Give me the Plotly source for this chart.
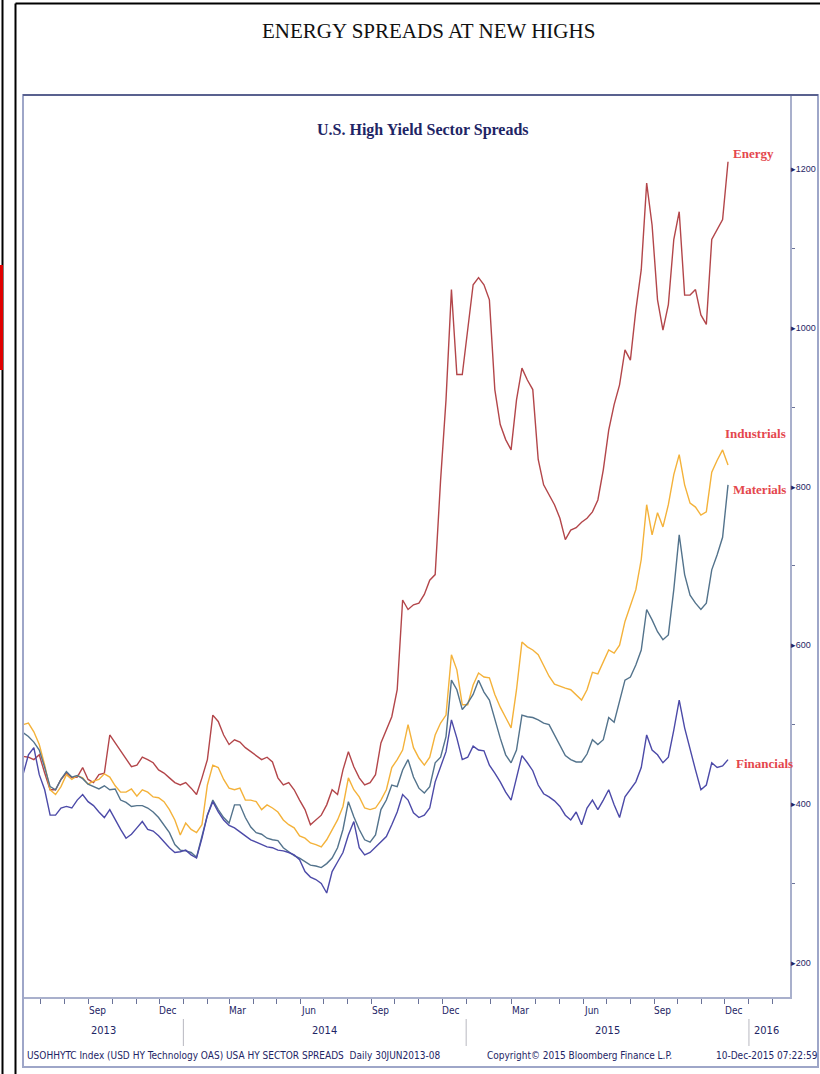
import pandas as pd
import plotly.graph_objects as go

# ---------------- data (weekly readings, bp) ----------------
dates = pd.date_range("2013-06-08", periods=131, freq="7D")

energy = [460, 459, 456, 462, 439, 418, 418, 431, 439, 433, 434, 446, 431, 427, 437, 439, 487, 477, 468, 458,
          447, 449, 459, 456, 452, 443, 439, 433, 427, 424, 427, 420, 412, 433, 456, 512, 504, 487, 475, 481,
          478, 471, 466, 462, 456, 459, 453, 433, 424, 427, 418, 405, 393, 374, 380, 386, 399, 418, 412, 443,
          466, 447, 433, 424, 427, 437, 477, 493, 510, 544, 657, 645, 651, 653, 664, 682, 689, 808, 909, 1048,
          941, 941, 997, 1054, 1063, 1054, 1035, 922, 878, 859, 846, 909, 949, 934, 922, 834, 802, 789, 777, 760,
          733, 745, 748, 755, 760, 768, 783, 821, 871, 903, 928, 972, 959, 1022, 1073, 1182, 1129, 1035, 997, 1029,
          1111, 1146, 1041, 1041, 1048, 1016, 1004, 1111, 1123, 1136, 1209]

industrials = [500, 502, 491, 475, 449, 418, 412, 422, 437, 431, 436, 433, 425, 429, 431, 438, 434, 423, 415, 415,
               419, 410, 418, 415, 409, 408, 403, 393, 380, 361, 376, 368, 364, 374, 424, 449, 446, 431, 420, 418,
               420, 405, 405, 403, 393, 399, 395, 390, 380, 374, 370, 360, 357, 351, 349, 346, 355, 368, 380, 397,
               433, 418, 409, 395, 393, 395, 405, 418, 446, 456, 468, 500, 471, 458, 449, 459, 487, 502, 512, 588,
               569, 525, 525, 550, 565, 560, 559, 538, 522, 509, 496, 544, 604, 598, 594, 588, 574, 561, 551, 548,
               546, 544, 538, 531, 544, 566, 564, 578, 594, 590, 600, 630, 651, 670, 708, 777, 739, 767, 749, 777,
               815, 840, 802, 779, 774, 764, 768, 818, 833, 846, 827]

materials = [490, 485, 478, 468, 446, 422, 418, 431, 441, 434, 436, 432, 425, 422, 419, 423, 418, 419, 405, 402,
             397, 398, 398, 395, 390, 383, 373, 364, 349, 342, 341, 339, 333, 361, 386, 405, 393, 383, 376, 399,
             399, 383, 371, 364, 362, 357, 355, 354, 345, 340, 335, 332, 327, 323, 322, 320, 325, 332, 345, 368,
             403, 384, 368, 355, 352, 361, 393, 405, 424, 422, 443, 456, 434, 420, 414, 422, 452, 459, 485, 556,
             544, 519, 527, 538, 556, 541, 531, 506, 483, 462, 452, 468, 512, 510, 509, 506, 502, 500, 487, 475,
             461, 456, 453, 453, 463, 481, 475, 481, 509, 503, 531, 556, 560, 575, 594, 645, 632, 617, 607, 613,
             670, 739, 689, 663, 653, 645, 653, 695, 714, 736, 802]

financials = [437, 462, 471, 437, 418, 386, 386, 395, 397, 395, 405, 412, 403, 398, 390, 383, 393, 380, 368, 357,
              362, 370, 378, 368, 366, 360, 352, 345, 339, 340, 342, 336, 332, 357, 386, 403, 390, 380, 373, 370,
              365, 360, 355, 352, 349, 346, 345, 342, 341, 339, 336, 330, 315, 308, 305, 300, 288, 315, 327, 339,
              361, 378, 345, 336, 339, 346, 352, 359, 374, 390, 412, 405, 389, 383, 386, 395, 428, 447, 466, 506,
              483, 456, 459, 473, 468, 467, 449, 439, 428, 415, 405, 433, 461, 452, 442, 424, 413, 409, 404, 397,
              386, 380, 390, 374, 395, 405, 393, 405, 418, 399, 383, 409, 418, 428, 446, 487, 468, 462, 452, 459,
              493, 531, 496, 468, 443, 418, 424, 452, 446, 448, 456]

series_names = ["Energy", "Industrials", "Materials", "Financials"]
series_values = [energy, industrials, materials, financials]
series_colors = ["#b3464a", "#f4b23a", "#53738c", "#4c4aa8"]

y_ticks = [200, 400, 600, 800, 1000, 1200]
y_minor = [300, 500, 700, 900, 1100]
month_labels = ["Sep", "Dec", "Mar", "Jun", "Sep", "Dec", "Mar", "Jun", "Sep", "Dec"]
month_label_dates = ["2013-09-12", "2013-12-12", "2014-03-12", "2014-06-12", "2014-09-12",
                     "2014-12-12", "2015-03-12", "2015-06-12", "2015-09-12", "2015-12-12"]
year_labels = ["2013", "2014", "2015", "2016"]
year_label_dates = ["2013-09-20", "2014-07-02", "2015-07-02", "2016-01-24"]
year_breaks = ["2014-01-01", "2015-01-01", "2016-01-01"]

# ---------------- figure ----------------
W, H = 820, 1074
L, R, T, B = 23, 30, 95, 77
pw, ph = W - L - R, H - T - B


def px(x):
    return (x - L) / pw


def py(y):
    return (H - B - y) / ph


fig = go.Figure()
for name, vals, col in zip(series_names, series_values, series_colors):
    fig.add_trace(go.Scatter(x=dates, y=vals, mode="lines", name=name,
                             line=dict(color=col, width=1.4)))

navy = "#1e2565"
narrow = "Liberation Sans Narrow, DejaVu Sans Condensed, Liberation Sans, sans-serif"
serif = "Liberation Serif, Times New Roman, serif"

fig.update_layout(
    width=W, height=H, margin=dict(l=L, r=R, t=T, b=B, autoexpand=False),
    paper_bgcolor="white", plot_bgcolor="white", showlegend=False,
    xaxis=dict(type="date", range=["2013-06-08", "2016-02-23"], showgrid=False, zeroline=False,
               automargin=False, showline=True, linecolor="#a9b0cc", linewidth=2,
               tickmode="linear", tick0="2013-06-01", dtick="M1", ticks="outside",
               ticklen=5, tickcolor="#6a7298", tickwidth=1, showticklabels=False),
    yaxis=dict(side="right", range=[157, 1293], showgrid=False, zeroline=False, automargin=False,
               showline=True, linecolor="#a9b0cc", linewidth=2,
               tickmode="array", tickvals=y_ticks, ticktext=["\u25b8" + str(v) for v in y_ticks],
               ticks="", ticklabelstandoff=-3,
               tickfont=dict(family="Liberation Sans, sans-serif", size=9, color=navy),
               minor=dict(tickmode="array", tickvals=y_minor, ticks="outside", ticklen=3,
                          tickcolor="#6a7298")),
)

shapes = []
# outer frame lines
shapes.append(dict(type="line", xref="paper", yref="paper", x0=px(2.5), x1=px(2.5), y0=py(0), y1=py(H),
                   line=dict(color="black", width=2)))
shapes.append(dict(type="rect", xref="paper", yref="paper", x0=px(0), x1=px(3), y0=py(370), y1=py(265),
                   fillcolor="#e00000", line=dict(width=0)))
shapes.append(dict(type="line", xref="paper", yref="paper", x0=px(15.5), x1=px(15.5), y0=py(3.5), y1=py(H),
                   line=dict(color="black", width=2)))
shapes.append(dict(type="line", xref="paper", yref="paper", x0=px(15.5), x1=px(W), y0=py(3.5), y1=py(3.5),
                   line=dict(color="black", width=2)))
# chart panel
shapes.append(dict(type="rect", xref="paper", yref="paper", x0=px(23), x1=px(818), y0=py(1067), y1=py(95),
                   line=dict(color="#9ea6c8", width=2)))
shapes.append(dict(type="line", xref="paper", yref="paper", x0=px(23), x1=px(818), y0=py(95), y1=py(95),
                   line=dict(color="#59618f", width=2)))
# year separators
for d in year_breaks:
    shapes.append(dict(type="line", xref="x", yref="paper", x0=d, x1=d, y0=py(1019), y1=py(1046),
                       line=dict(color="#b8b8c0", width=1)))
fig.update_layout(shapes=shapes)

ann = []
ann.append(dict(text="ENERGY SPREADS AT NEW HIGHS", xref="paper", yref="paper", x=px(428), y=py(31),
                showarrow=False, xanchor="center", yanchor="middle",
                font=dict(family=serif, size=21, color="#111111")))
ann.append(dict(text="<b>U.S. High Yield Sector Spreads</b>", xref="paper", yref="paper", x=px(423), y=py(130),
                showarrow=False, xanchor="center", yanchor="middle",
                font=dict(family=serif, size=16, color=navy)))
label_pos = {"Energy": (731, 153), "Industrials": (723, 433), "Materials": (731, 490), "Financials": (734, 763)}
for name in series_names:
    lx, ly = label_pos[name]
    ann.append(dict(text="<b>" + name + "</b>", xref="paper", yref="paper", x=px(lx), y=py(ly),
                    showarrow=False, xanchor="left", yanchor="middle",
                    font=dict(family=serif, size=13, color="#e4474d")))
for lab, d in zip(month_labels, month_label_dates):
    ann.append(dict(text=lab, xref="x", yref="paper", x=d, y=py(1010), showarrow=False,
                    xanchor="center", yanchor="middle", font=dict(family=narrow, size=10, color=navy)))
for lab, d in zip(year_labels, year_label_dates):
    ann.append(dict(text=lab, xref="x", yref="paper", x=d, y=py(1030), showarrow=False,
                    xanchor="center", yanchor="middle", font=dict(family=narrow, size=11, color=navy)))
ann.append(dict(text="USOHHYTC Index (USD HY Technology OAS) USA HY SECTOR SPREADS  Daily 30JUN2013-08",
                xref="paper", yref="paper", x=px(25), y=py(1055), showarrow=False, xanchor="left",
                yanchor="middle", font=dict(family=narrow, size=10, color=navy)))
ann.append(dict(text="Copyright\u00a9 2015 Bloomberg Finance L.P.", xref="paper", yref="paper", x=px(485),
                y=py(1055), showarrow=False, xanchor="left", yanchor="middle",
                font=dict(family=narrow, size=10, color=navy)))
ann.append(dict(text="10-Dec-2015 07:22:59", xref="paper", yref="paper", x=px(820), y=py(1055),
                showarrow=False, xanchor="right", yanchor="middle",
                font=dict(family=narrow, size=10, color=navy)))
fig.update_layout(annotations=ann)

fig.write_html("out.html", config={"displayModeBar": False},
               post_script="document.body.style.margin='0';document.body.style.overflow='hidden';")
